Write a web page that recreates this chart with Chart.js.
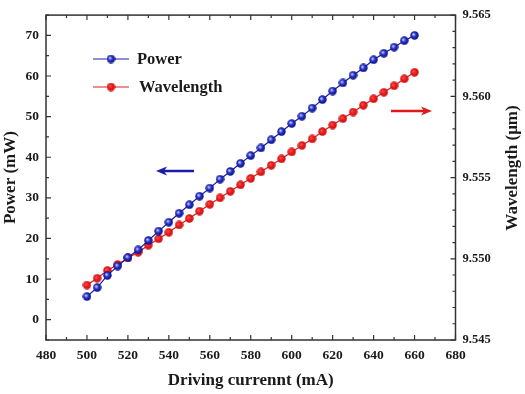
<!DOCTYPE html>
<html>
<head>
<meta charset="utf-8">
<script src="https://cdn.jsdelivr.net/npm/chart.js@4"></script>
<style>
  html, body { margin: 0; padding: 0; background: #fff; }
  #wrap { width: 525px; height: 394px; }
</style>
</head>
<body>
<div id="wrap"><canvas id="chart" width="525" height="394"></canvas></div>
<script>
// ====== DATA ======
const current = [500, 505, 510, 515, 520, 525, 530, 535, 540, 545, 550, 555, 560, 565, 570, 575, 580,
  585, 590, 595, 600, 605, 610, 615, 620, 625, 630, 635, 640, 645, 650, 655, 660];
const power = [5.7, 7.9, 10.9, 13.2, 15.3, 17.2, 19.5, 21.8, 24.0, 26.2, 28.3, 30.4, 32.4, 34.6, 36.5, 38.5, 40.4,
  42.3, 44.3, 46.3, 48.3, 50.1, 52.1, 54.2, 56.3, 58.3, 60.2, 62.0, 64.0, 65.6, 67.1, 68.7, 70.0];
const wavelength = [9.54838, 9.5488, 9.54928, 9.54965, 9.55005, 9.5504, 9.55083, 9.55123, 9.55163, 9.55208,
  9.55248, 9.55293, 9.55335, 9.55375, 9.55415, 9.55455, 9.55495, 9.55535, 9.55575, 9.55615, 9.55658,
  9.55698, 9.55738, 9.55783, 9.55823, 9.55863, 9.55903, 9.55945, 9.55985, 9.56025, 9.56065, 9.56108, 9.56148];

const xTicks = [480, 500, 520, 540, 560, 580, 600, 620, 640, 660, 680];
const powerTicks = [0, 10, 20, 30, 40, 50, 60, 70];
const waveTicks = [9.545, 9.550, 9.555, 9.560, 9.565];

const FONT = '"Liberation Serif", "Times New Roman", serif';
const INK = '#1a1a1a';
const BLUE = '#1c1caa';
const RED = '#e01a1a';

// ====== MARKERS ======
function sphere(base, dark, light) {
  const c = document.createElement('canvas');
  c.width = 9; c.height = 9;
  const g = c.getContext('2d');
  const grad = g.createRadialGradient(3.3, 3.3, 0.3, 4.5, 4.5, 4.5);
  grad.addColorStop(0, light);
  grad.addColorStop(0.45, base);
  grad.addColorStop(1, dark);
  g.fillStyle = grad;
  g.beginPath(); g.arc(4.5, 4.5, 4.2, 0, Math.PI * 2); g.fill();
  return c;
}
const blueDot = sphere('#2230c8', '#0a0a78', '#c8d0ff');
const redDot = sphere('#e81c1c', '#c81010', '#ff5050');

// ====== DECORATION PLUGIN ======
const frame = {
  id: 'frame',
  afterDraw(chart) {
    const { ctx, chartArea: a, scales } = chart;
    ctx.save();
    ctx.strokeStyle = '#333';
    ctx.lineWidth = 1.5;
    ctx.strokeRect(a.left, a.top, a.right - a.left, a.bottom - a.top);

    ctx.lineWidth = 1.2;
    ctx.beginPath();
    for (let v = 480; v <= 680; v += 10) {
      const px = scales.x.getPixelForValue(v);
      const len = v % 20 === 0 ? 5 : 3;
      ctx.moveTo(px, a.bottom); ctx.lineTo(px, a.bottom - len);
      ctx.moveTo(px, a.top); ctx.lineTo(px, a.top + len);
    }
    for (let v = -5; v <= 75; v += 5) {
      const py = scales.y.getPixelForValue(v);
      const len = v % 10 === 0 ? 5 : 3;
      ctx.moveTo(a.left, py); ctx.lineTo(a.left + len, py);
    }
    for (let i = 0; i <= 20; i++) {
      const py = scales.y1.getPixelForValue(9.545 + i * 0.001);
      const len = i % 5 === 0 ? 5 : 3;
      ctx.moveTo(a.right, py); ctx.lineTo(a.right - len, py);
    }
    ctx.stroke();

    // right axis title, reading bottom to top
    ctx.fillStyle = INK;
    ctx.font = 'bold 17px ' + FONT;
    ctx.textAlign = 'center';
    ctx.textBaseline = 'middle';
    ctx.translate(513, 168);
    ctx.rotate(-Math.PI / 2);
    ctx.fillText('Wavelength (\u03bcm)', 0, 0);
    ctx.setTransform(1, 0, 0, 1, 0, 0);

    // legend
    const rows = [
      { label: 'Power', color: BLUE, dot: blueDot, y: 59, tx: 137 },
      { label: 'Wavelength', color: RED, dot: redDot, y: 87, tx: 139 }
    ];
    ctx.font = 'bold 16.5px ' + FONT;
    ctx.textAlign = 'left';
    rows.forEach(r => {
      ctx.strokeStyle = r.color;
      ctx.lineWidth = 1;
      ctx.beginPath(); ctx.moveTo(93, r.y); ctx.lineTo(129, r.y); ctx.stroke();
      ctx.drawImage(r.dot, 111 - 4.5, r.y - 4.5);
      ctx.fillStyle = INK;
      ctx.fillText(r.label, r.tx, r.y + 1);
    });

    // arrows
    arrow(ctx, 194, 171, 156, 171, BLUE);
    arrow(ctx, 391, 111, 432, 111, RED);
    ctx.restore();
  }
};

function arrow(ctx, x0, y, x1, y1, color) {
  const dir = Math.sign(x1 - x0);
  ctx.strokeStyle = color;
  ctx.fillStyle = color;
  ctx.lineWidth = 2.5;
  ctx.beginPath(); ctx.moveTo(x0, y); ctx.lineTo(x1 - dir * 8, y1); ctx.stroke();
  ctx.beginPath();
  ctx.moveTo(x1, y1);
  ctx.lineTo(x1 - dir * 11, y1 - 4.5);
  ctx.lineTo(x1 - dir * 8, y1);
  ctx.lineTo(x1 - dir * 11, y1 + 4.5);
  ctx.closePath();
  ctx.fill();
}

// ====== CHART ======
const tickFont = { family: FONT, size: 13.5, weight: 'bold' };
const titleFont = { family: FONT, size: 17, weight: 'bold' };

new Chart(document.getElementById('chart'), {
  type: 'line',
  data: {
    datasets: [
      {
        label: 'Power',
        data: current.map((c, i) => ({ x: c, y: power[i] })),
        yAxisID: 'y',
        borderColor: BLUE, borderWidth: 1.2,
        pointStyle: blueDot, pointRadius: 4.5,
        tension: 0
      },
      {
        label: 'Wavelength',
        data: current.map((c, i) => ({ x: c, y: wavelength[i] })),
        yAxisID: 'y1',
        borderColor: RED, borderWidth: 1.2,
        pointStyle: redDot, pointRadius: 4.5,
        tension: 0
      }
    ]
  },
  options: {
    responsive: false,
    animation: false,
    layout: { padding: { top: 11, left: 0, right: 0, bottom: 0 } },
    plugins: { legend: { display: false }, tooltip: { enabled: false } },
    scales: {
      x: {
        type: 'linear', position: 'bottom', min: 480, max: 680,
        afterBuildTicks: s => { s.ticks = xTicks.map(v => ({ value: v })); },
        afterFit: s => { s.height = 54; },
        grid: { display: false, drawTicks: false },
        border: { display: false },
        ticks: { font: tickFont, color: INK, padding: 7, maxRotation: 0 },
        title: { display: true, text: 'Driving currennt (mA)', color: INK,
          font: titleFont, padding: { top: 4, bottom: 3 } }
      },
      y: {
        type: 'linear', position: 'left', min: -5, max: 75,
        afterBuildTicks: s => { s.ticks = powerTicks.map(v => ({ value: v })); },
        afterFit: s => { s.width = 46; },
        grid: { display: false, drawTicks: false },
        border: { display: false },
        ticks: { font: tickFont, color: INK, padding: 7 },
        title: { display: true, text: 'Power (mW)', color: INK,
          font: titleFont, padding: { top: 0, bottom: 2 } }
      },
      y1: {
        type: 'linear', position: 'right', min: 9.545, max: 9.565,
        afterBuildTicks: s => { s.ticks = waveTicks.map(v => ({ value: v })); },
        afterFit: s => { s.width = 69.5; },
        grid: { display: false, drawTicks: false },
        border: { display: false },
        ticks: { font: { family: FONT, size: 12.5, weight: 'bold' }, color: INK, padding: 7,
          callback: v => v.toFixed(3) }
      }
    }
  },
  plugins: [frame]
});
</script>
</body>
</html>
